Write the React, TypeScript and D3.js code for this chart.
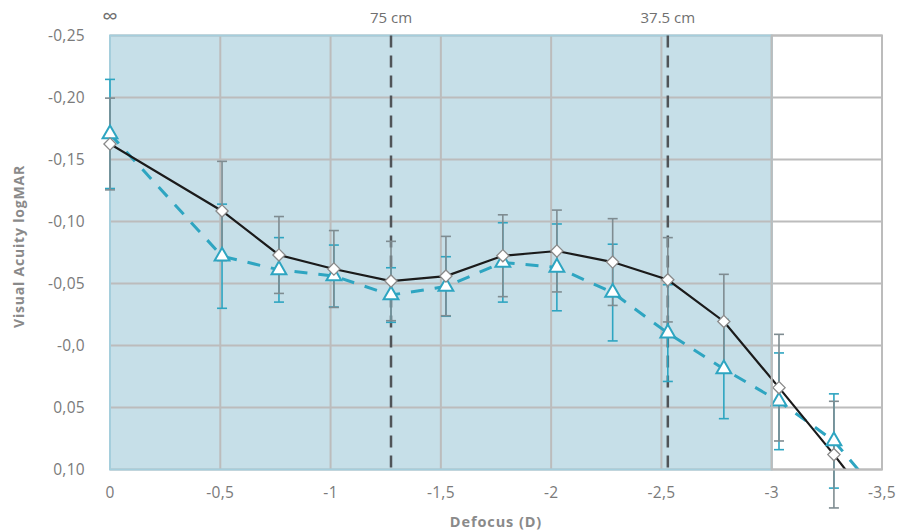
import React, { useEffect, useRef } from "react";
import * as d3 from "d3";

// defocus positions of the measured points (D)
const defocus = [0, -0.508, -0.766, -1.015, -1.274, -1.523, -1.781, -2.026, -2.279, -2.529, -2.783, -3.033, -3.282];
// extra point beyond the axis (line runs off the chart)
const defocusTail = -3.53;

const solidVA = [-0.1625, -0.1085, -0.073, -0.0617, -0.052, -0.056, -0.0724, -0.0762, -0.0673, -0.053, -0.0194, 0.034, 0.088];
const solidTail = 0.145;
const solidErr = [0.037, 0.04, 0.031, 0.031, 0.032, 0.032, 0.033, 0.033, 0.035, 0.034, 0.038, 0.043, 0.043];

const dashedVA = [-0.1706, -0.072, -0.061, -0.056, -0.0407, -0.0476, -0.067, -0.063, -0.0427, -0.01, 0.019, 0.045, 0.077];
const dashedTail = 0.129;
const dashedErr = [0.044, 0.042, 0.026, 0.025, 0.022, 0.024, 0.032, 0.035, 0.039, 0.039, 0.04, 0.039, 0.038];

const xTicks = [0, -0.5, -1, -1.5, -2, -2.5, -3, -3.5];
const xTickLabels = ["0", "-0,5", "-1", "-1,5", "-2", "-2,5", "-3", "-3,5"];
const yTicks = [-0.25, -0.2, -0.15, -0.1, -0.05, 0, 0.05, 0.1];
const yTickLabels = ["-0,25", "-0,20", "-0,15", "-0,10", "-0,05", "-0,0", "0,05", "0,10"];

const distances = [
  { d: 0, label: "∞", line: false },
  { d: -1.274, label: "75 cm", line: true },
  { d: -2.529, label: "37.5 cm", line: true },
];
const shadedTo = -3;

function Chart() {
  const ref = useRef<SVGSVGElement>(null);

  useEffect(() => {
    const svg = d3.select(ref.current);
    svg.selectAll("*").remove();

    const left = 110, right = 882, top = 35.5, bottom = 469.5;
    const x = d3.scaleLinear().domain([0, -3.5]).range([left, right]);
    const y = d3.scaleLinear().domain([-0.25, 0.1]).range([top, bottom]);
    const font = "'Open Sans', 'DejaVu Sans', sans-serif";
    const gridColor = "#bcbcbc";
    const blue = "#2ea5c1";
    const errGray = "#7f8c91";

    svg.append("defs").append("clipPath").attr("id", "plotClip")
      .append("rect").attr("x", left).attr("y", top)
      .attr("width", right - left).attr("height", bottom - top);

    // shaded region
    svg.append("rect")
      .attr("x", x(0)).attr("y", top)
      .attr("width", x(shadedTo) - x(0)).attr("height", bottom - top)
      .attr("fill", "#c6dfe8");

    // grid
    svg.append("g").selectAll("line").data(xTicks).enter().append("line")
      .attr("x1", (d) => x(d)).attr("x2", (d) => x(d))
      .attr("y1", top).attr("y2", bottom)
      .attr("stroke", gridColor).attr("stroke-width", 2);
    svg.append("g").selectAll("line").data(yTicks).enter().append("line")
      .attr("x1", left).attr("x2", right)
      .attr("y1", (d) => y(d)).attr("y2", (d) => y(d))
      .attr("stroke", gridColor).attr("stroke-width", 2);

    svg.append("rect")
      .attr("x", x(0)).attr("y", top)
      .attr("width", x(shadedTo) - x(0)).attr("height", bottom - top)
      .attr("fill", "none").attr("stroke", "#a5cedc").attr("stroke-width", 2);

    // tick labels
    svg.append("g").selectAll("text").data(xTicks).enter().append("text")
      .attr("x", (d) => x(d)).attr("y", 498)
      .attr("text-anchor", "middle").attr("font-family", font)
      .attr("font-size", 15.5).attr("letter-spacing", 0.3).attr("fill", "#7a7a7a")
      .text((d, i) => xTickLabels[i]);
    svg.append("g").selectAll("text").data(yTicks).enter().append("text")
      .attr("x", 85).attr("y", (d) => y(d) + 5.5)
      .attr("text-anchor", "end").attr("font-family", font)
      .attr("font-size", 15.5).attr("letter-spacing", 0.3).attr("fill", "#7a7a7a")
      .text((d, i) => yTickLabels[i]);

    // axis titles
    svg.append("text")
      .attr("x", (left + right) / 2).attr("y", 527)
      .attr("text-anchor", "middle").attr("font-family", font)
      .attr("font-size", 14.5).attr("letter-spacing", 0.9).attr("font-weight", "bold").attr("fill", "#8a8a8a")
      .text("Defocus (D)");
    svg.append("text")
      .attr("transform", `translate(24,${(top + bottom) / 2 - 6}) rotate(-90)`)
      .attr("text-anchor", "middle").attr("font-family", font)
      .attr("font-size", 14).attr("letter-spacing", 0.8).attr("font-weight", "bold").attr("fill", "#8a8a8a")
      .text("Visual Acuity logMAR");

    // distance markers
    svg.append("g").selectAll("line").data(distances.filter((d) => d.line)).enter().append("line")
      .attr("x1", (d) => x(d.d)).attr("x2", (d) => x(d.d))
      .attr("y1", top).attr("y2", bottom)
      .attr("stroke", "#505458").attr("stroke-width", 2.5)
      .attr("stroke-dasharray", "12,8");
    svg.append("g").selectAll("text").data(distances).enter().append("text")
      .attr("x", (d) => x(d.d)).attr("y", (d) => (d.line ? 23 : 24))
      .attr("text-anchor", "middle").attr("font-family", font)
      .attr("font-size", (d) => (d.line ? 15 : 22)).attr("fill", "#707070")
      .text((d) => d.label);

    const errBars = (vals: number[], errs: number[], color: string) => {
      const g = svg.append("g").attr("stroke", color).attr("stroke-width", 1.6);
      defocus.forEach((d, i) => {
        const cx = x(d);
        const y1 = y(vals[i] - errs[i]);
        const y2 = y(vals[i] + errs[i]);
        g.append("line").attr("x1", cx).attr("x2", cx).attr("y1", y1).attr("y2", y2);
        g.append("line").attr("x1", cx - 5).attr("x2", cx + 5).attr("y1", y1).attr("y2", y1);
        g.append("line").attr("x1", cx - 5).attr("x2", cx + 5).attr("y1", y2).attr("y2", y2);
      });
    };
    errBars(dashedVA, dashedErr, blue);
    errBars(solidVA, solidErr, errGray);

    const line = d3.line<[number, number]>().x((d) => x(d[0])).y((d) => y(d[1]));
    const dashedPts: [number, number][] = defocus.map((d, i) => [d, dashedVA[i]] as [number, number]).concat([[defocusTail, dashedTail]]);
    const solidPts: [number, number][] = defocus.map((d, i) => [d, solidVA[i]] as [number, number]).concat([[defocusTail, solidTail]]);

    svg.append("path").datum(dashedPts)
      .attr("clip-path", "url(#plotClip)")
      .attr("d", line).attr("fill", "none")
      .attr("stroke", blue).attr("stroke-width", 3)
      .attr("stroke-dasharray", "13,11");
    svg.append("path").datum(solidPts)
      .attr("clip-path", "url(#plotClip)")
      .attr("d", line).attr("fill", "none")
      .attr("stroke", "#1b1b1b").attr("stroke-width", 2.2);

    const tri = d3.symbol().type(d3.symbolTriangle).size(95);
    svg.append("g").selectAll("path").data(dashedVA).enter().append("path")
      .attr("transform", (d, i) => `translate(${x(defocus[i])},${y(d)})`)
      .attr("d", tri).attr("fill", "white")
      .attr("stroke", blue).attr("stroke-width", 2);

    const diamond = d3.symbol().type(d3.symbolDiamond2).size(95);
    svg.append("g").selectAll("path").data(solidVA).enter().append("path")
      .attr("transform", (d, i) => `translate(${x(defocus[i])},${y(d)})`)
      .attr("d", diamond).attr("fill", "white")
      .attr("stroke", "#8a8a8a").attr("stroke-width", 1.3);

    // outer border of the plot
    svg.append("rect")
      .attr("x", x(shadedTo)).attr("y", top)
      .attr("width", right - x(shadedTo)).attr("height", bottom - top)
      .attr("fill", "none").attr("stroke", gridColor).attr("stroke-width", 2);
  }, []);

  return <svg ref={ref} width={912} height={530} style={{ position: "absolute", left: 0, top: 0, background: "white" }} />;
}

export default function App() {
  return <Chart />;
}
